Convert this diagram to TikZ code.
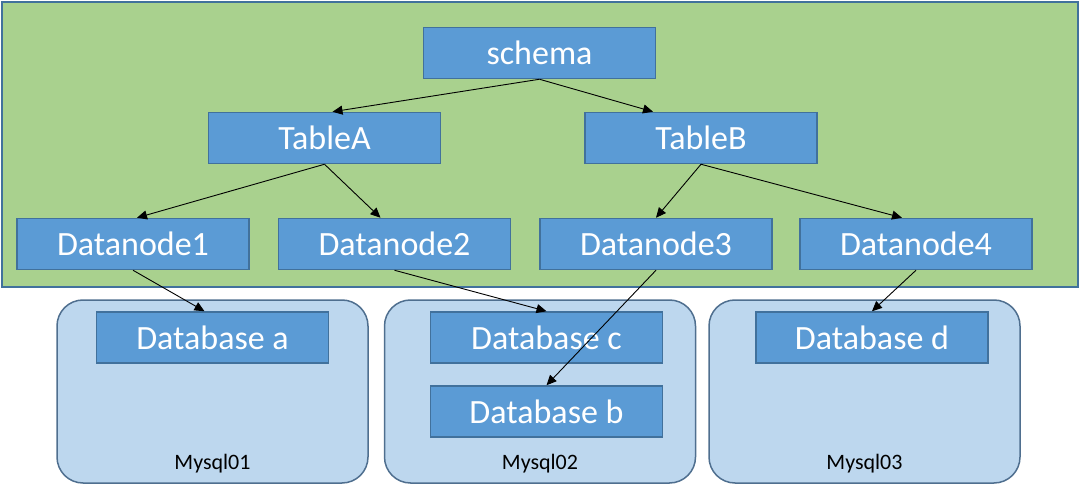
\documentclass[tikz,border=0pt]{standalone}
\usepackage{fontspec}
\setmainfont{Carlito}
\usetikzlibrary{arrows.meta}
\definecolor{bgreen}{HTML}{A9D18E}
\definecolor{nodefill}{HTML}{5B9BD5}
\definecolor{nodeline}{HTML}{41719C}
\definecolor{dbfill}{HTML}{BDD7EE}
\definecolor{panelline}{HTML}{4F6F8F}
\tikzset{
  box/.style={draw=nodeline, fill=nodefill, line width=1.5pt, minimum width=232pt,
    minimum height=51pt, inner sep=0pt, text=white,
    font=\fontsize{34}{37}\selectfont},
  server/.style={draw=panelline, fill=dbfill, line width=1.5pt, rounded corners=26pt,
    minimum width=311pt, minimum height=183pt, inner sep=0pt},
  serverlabel/.style={text=black, font=\fontsize{22}{24}\selectfont, inner sep=0pt},
  link/.style={draw=black, line width=0.9pt, -{Triangle[width=9pt,length=10pt]}}
}
\begin{document}
\begin{tikzpicture}[x=1pt, y=-1pt]
\useasboundingbox (0,0) rectangle (1080,492);
\node[draw=nodeline, fill=bgreen, line width=2pt, minimum width=1076pt, minimum height=285pt,
  inner sep=0pt, anchor=north west] (area) at (1,1) {};

\node[server] (m1) at (212.5,391.5) {};
\node[server] (m2) at (540,391.5) {};
\node[server] (m3) at (864.5,391.5) {};
\node[serverlabel] (l1) at (212.5,464) {Mysql01};
\node[serverlabel] (l2) at (540,464) {Mysql02};
\node[serverlabel] (l3) at (864.5,464) {Mysql03};

\node[box] (schema) at (539.5,53) {schema};
\node[box] (ta) at (324.5,138) {TableA};
\node[box] (tb) at (701,138) {TableB};
\node[box] (d1) at (133,244) {Datanode1};
\node[box] (d2) at (394.5,244) {Datanode2};
\node[box] (d3) at (656,244) {Datanode3};
\node[box] (d4) at (916,244) {Datanode4};

\node[box] (dba) at (212.5,337.5) {Database a};
\node[box] (dbc) at (546.5,337.5) {Database c};
\node[box] (dbb) at (546.5,411.5) {Database b};
\node[box] (dbd) at (872,337.5) {Database d};

\draw[link] (schema.south) -- ([xshift=8pt]ta.north);
\draw[link] (schema.south) -- ([xshift=-48pt]tb.north);
\draw[link] (ta.south) -- ([xshift=4pt]d1.north);
\draw[link] (ta.south) -- ([xshift=-14pt]d2.north);
\draw[link] (tb.south) -- (d3.north);
\draw[link] (tb.south) -- ([xshift=-14pt]d4.north);
\draw[link] (d1.south) -- ([xshift=-8pt]dba.north);
\draw[link] (d2.south) -- (dbc.north);
\draw[link] (d3.south) -- (dbb.north);
\draw[link] (d4.south) -- (dbd.north);
\end{tikzpicture}
\end{document}
